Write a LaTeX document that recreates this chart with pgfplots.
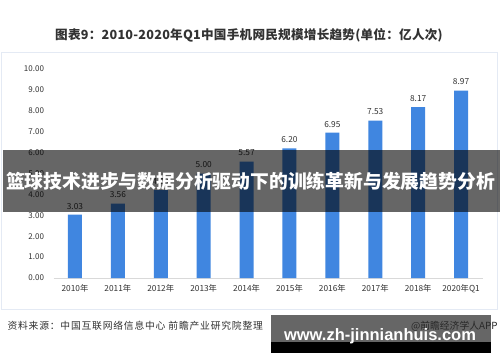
\documentclass[border=0pt]{standalone}
\usepackage{fontspec}
\setmainfont{Noto Sans CJK SC}
\newfontfamily\wmfont{Liberation Sans}
\usepackage{pgfplots}
\pgfplotsset{compat=1.18}
\definecolor{barblue}{RGB}{64,134,224}
\definecolor{txtgray}{RGB}{50,50,50}
\definecolor{panelborder}{RGB}{228,234,244}
\begin{document}
\begin{tikzpicture}[x=1pt,y=1pt]
\path[use as bounding box] (0,0) rectangle (500,362);
\fill[white] (0,0) rectangle (500,362);
% panel
\draw[panelborder, fill=white, line width=1pt] (1.5,362-309) rectangle (497,362-53);
% title
\node[font=\bfseries\fontsize{12.6}{14}\selectfont\addfontfeature{LetterSpace=2}, text=txtgray] at (249,362-35) {图表9：2010-2020年Q1中国手机网民规模增长趋势(单位：亿人次)};
\begin{axis}[
  at={(53.5pt,84pt)}, anchor=south west,
  scale only axis, width=429pt, height=209pt,
  xmin=-0.5, xmax=9.5, ymin=0, ymax=10,
  separate axis lines,
  axis x line*=bottom, axis y line*=left,
  y axis line style={draw=none},
  x axis line style={draw=black!15, line width=0.8pt},
  major tick length=0pt,
  ytick={0,1,...,10},
  yticklabel={\pgfmathprintnumber[fixed,fixed zerofill,precision=2]{\tick}},
  /pgf/number format/assume math mode=true,
  yticklabel style={font=\fontsize{8}{9}\selectfont, text=txtgray, xshift=-6pt},
  xtick=data,
  xticklabels={2010年,2011年,2012年,2013年,2014年,2015年,2016年,2017年,2018年,2020年Q1},
  xticklabel style={font=\fontsize{8.3}{9}\selectfont, text=txtgray, yshift=-3pt},
  ybar, bar width=14pt,
  nodes near coords,
  nodes near coords style={font=\fontsize{8.3}{9}\selectfont, text=txtgray, yshift=2pt},
  point meta=explicit symbolic,
  clip=false,
]
\addplot[fill=barblue, draw=none] coordinates {
(0,3.03) [3.03] (1,3.56) [3.56] (2,4.20) [4.20] (3,5.00) [5.00] (4,5.57) [5.57]
(5,6.20) [6.20] (6,6.95) [6.95] (7,7.53) [7.53] (8,8.17) [8.17] (9,8.97) [8.97]};
\end{axis}
% banner
\fill[black, opacity=0.6] (3,362-212) rectangle (500,362-150);
\node[font=\bfseries\fontsize{18.8}{20}\selectfont, text=white] at (250.5,362-181) {篮球技术进步与数据分析驱动下的训练革新与发展趋势分析};
% footer
\node[anchor=west, font=\fontsize{9.8}{10}\selectfont\addfontfeature{LetterSpace=8}, text=txtgray] at (4,362-326) {资料来源：中国互联网络信息中心\ 前瞻产业研究院整理};
% watermark box
\fill[black!60] (271,362-342) rectangle (491,362-315);
\fill[black] (271,362-353) rectangle (491,362-342);
\node[anchor=east, font=\fontsize{9.8}{10}\selectfont, text=txtgray!80!black] at (501,362-326) {@前瞻经济学人APP};
\node[font=\wmfont\bfseries\fontsize{16.5}{18}\selectfont, text=white] at (380,362-336) {www.zh-jinnianhuis.com};
\end{tikzpicture}
\end{document}
